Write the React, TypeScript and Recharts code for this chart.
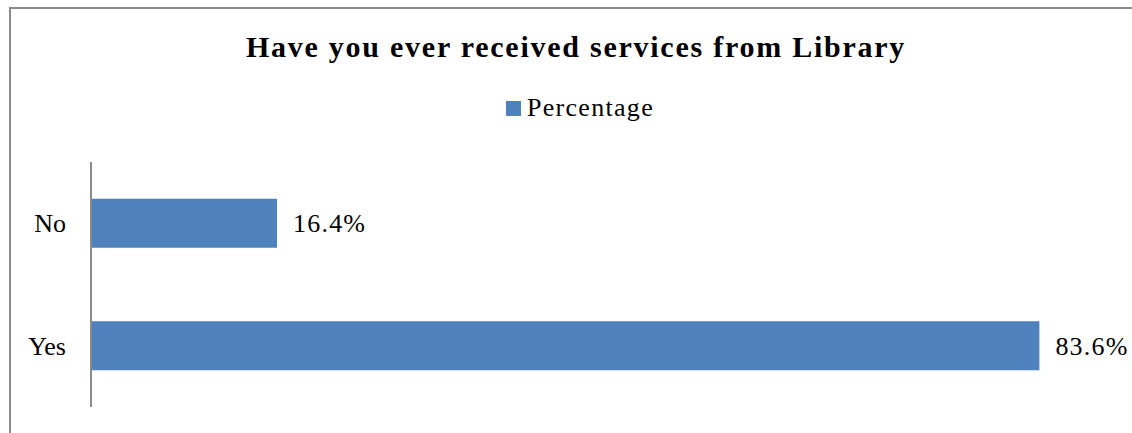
import React from 'react';
import { BarChart, Bar, XAxis, YAxis, LabelList } from 'recharts';

const categories = ['No', 'Yes'];
const percentages = [16.4, 83.6];
const seriesName = 'Percentage';
const title = 'Have you ever received services from Library';

const data = categories.map((c, i) => ({ name: c, value: percentages[i] }));

const FONT = '"Liberation Serif", "Times New Roman", serif';
const BLUE = '#4F81BD';

const LegendBox = () => (
    <div style={{ display: 'flex', alignItems: 'center', justifyContent: 'center', fontFamily: FONT, fontSize: 26, color: '#000' }}>
        <span style={{ display: 'inline-block', width: 15, height: 15, background: BLUE, marginRight: 6 }} />
        <span style={{ letterSpacing: 1.3 }}>{seriesName}</span>
    </div>
);

export default function App() {
    return (
        <div style={{ position: 'absolute', left: 0, top: 0, width: 1132, height: 433, background: '#fff', overflow: 'hidden' }}>
            <div style={{ position: 'absolute', left: 9, top: 7, width: 1200, height: 500, borderLeft: '2px solid #8c8c8c', borderTop: '2px solid #8c8c8c' }} />
            <div style={{ position: 'absolute', left: 0, top: 30, width: 1152, textAlign: 'center', fontFamily: FONT, fontWeight: 700, fontSize: 30, letterSpacing: 1.75, color: '#000' }}>
                {title}
            </div>
            <div style={{ position: 'absolute', left: 0, top: 93, width: 1160 }}>
                <LegendBox />
            </div>
            <div style={{ position: 'absolute', left: 0, top: 0 }}>
                <BarChart
                    width={1132}
                    height={433}
                    data={data}
                    layout="vertical"
                    margin={{ top: 162, right: 20, left: 0, bottom: 26 }}
                    barCategoryGap="30%"
                >
                    <XAxis type="number" domain={[0, 90]} hide />
                    <YAxis
                        type="category"
                        dataKey="name"
                        width={91}
                        axisLine={{ stroke: '#8c8c8c', strokeWidth: 2 }}
                        tickLine={false}
                        tickSize={0}
                        tickMargin={25}
                        tick={{ fill: '#000', fontSize: 26, fontFamily: FONT }}
                    />
                    <Bar dataKey="value" name={seriesName} fill={BLUE} isAnimationActive={false}>
                        <LabelList
                            dataKey="value"
                            position="right"
                            offset={16}
                            formatter={(v: any) => `${v}%`}
                            style={{ fill: '#000', fontSize: 26, fontFamily: FONT, letterSpacing: 1.2 }}
                        />
                    </Bar>
                </BarChart>
            </div>
        </div>
    );
}
